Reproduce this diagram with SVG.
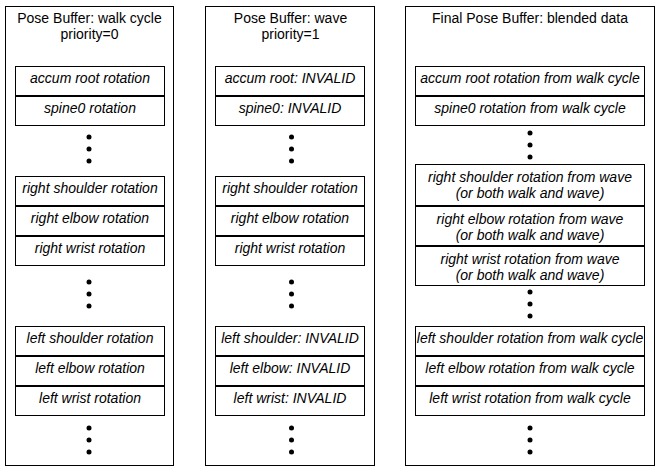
<svg xmlns="http://www.w3.org/2000/svg" width="660" height="472" viewBox="0 0 660 472">
<style>
.frame{fill:#fff;stroke:#000;stroke-width:1}
.slot{fill:#fff;stroke:#000;stroke-width:1}
.title{font-family:"Liberation Sans",Arial,sans-serif;font-size:14px;fill:#000;text-anchor:middle}
.lbl{font-family:"Liberation Sans",Arial,sans-serif;font-size:14px;font-style:italic;fill:#000;text-anchor:middle}
.dot{fill:#000}
</style>
<rect x="0" y="0" width="660" height="472" fill="#fff"/>

<g id="buffer-walk">
<rect class="frame" x="5.5" y="6.5" width="168" height="459"/>
<text class="title" x="89.5" y="23">Pose Buffer: walk cycle</text>
<text class="title" x="89.5" y="39">priority=0</text>
<g id="walk-accum"><rect class="slot" x="15.5" y="66.5" width="149" height="29"/><text class="lbl" x="90" y="83">accum root rotation</text></g>
<g id="walk-spine0"><rect class="slot" x="15.5" y="96.5" width="149" height="29"/><text class="lbl" x="90" y="113">spine0 rotation</text></g>
<g id="walk-dots1"><circle class="dot" cx="89" cy="137" r="2.5"/><circle class="dot" cx="89" cy="149" r="2.5"/><circle class="dot" cx="89" cy="161" r="2.5"/></g>
<g id="walk-rshoulder"><rect class="slot" x="15.5" y="176.5" width="149" height="29"/><text class="lbl" x="90" y="193">right shoulder rotation</text></g>
<g id="walk-relbow"><rect class="slot" x="15.5" y="206.5" width="149" height="29"/><text class="lbl" x="90" y="223">right elbow rotation</text></g>
<g id="walk-rwrist"><rect class="slot" x="15.5" y="236.5" width="149" height="29"/><text class="lbl" x="90" y="253">right wrist rotation</text></g>
<g id="walk-dots2"><circle class="dot" cx="89" cy="282" r="2.5"/><circle class="dot" cx="89" cy="294" r="2.5"/><circle class="dot" cx="89" cy="306" r="2.5"/></g>
<g id="walk-lshoulder"><rect class="slot" x="15.5" y="326.5" width="149" height="29"/><text class="lbl" x="90" y="343">left shoulder rotation</text></g>
<g id="walk-lelbow"><rect class="slot" x="15.5" y="356.5" width="149" height="29"/><text class="lbl" x="90" y="373">left elbow rotation</text></g>
<g id="walk-lwrist"><rect class="slot" x="15.5" y="386.5" width="149" height="29"/><text class="lbl" x="90" y="403">left wrist rotation</text></g>
<g id="walk-dots3"><circle class="dot" cx="89" cy="428" r="2.5"/><circle class="dot" cx="89" cy="440" r="2.5"/><circle class="dot" cx="89" cy="452" r="2.5"/></g>
</g>

<g id="buffer-wave">
<rect class="frame" x="205.5" y="6.5" width="169" height="459"/>
<text class="title" x="290.5" y="23">Pose Buffer: wave</text>
<text class="title" x="290.5" y="39">priority=1</text>
<g id="wave-accum"><rect class="slot" x="215.5" y="66.5" width="149" height="29"/><text class="lbl" x="290" y="83">accum root: INVALID</text></g>
<g id="wave-spine0"><rect class="slot" x="215.5" y="96.5" width="149" height="29"/><text class="lbl" x="290" y="113">spine0: INVALID</text></g>
<g id="wave-dots1"><circle class="dot" cx="291.5" cy="137" r="2.5"/><circle class="dot" cx="291.5" cy="149" r="2.5"/><circle class="dot" cx="291.5" cy="161" r="2.5"/></g>
<g id="wave-rshoulder"><rect class="slot" x="215.5" y="176.5" width="149" height="29"/><text class="lbl" x="290" y="193">right shoulder rotation</text></g>
<g id="wave-relbow"><rect class="slot" x="215.5" y="206.5" width="149" height="29"/><text class="lbl" x="290" y="223">right elbow rotation</text></g>
<g id="wave-rwrist"><rect class="slot" x="215.5" y="236.5" width="149" height="29"/><text class="lbl" x="290" y="253">right wrist rotation</text></g>
<g id="wave-dots2"><circle class="dot" cx="291.5" cy="282" r="2.5"/><circle class="dot" cx="291.5" cy="294" r="2.5"/><circle class="dot" cx="291.5" cy="306" r="2.5"/></g>
<g id="wave-lshoulder"><rect class="slot" x="215.5" y="326.5" width="149" height="29"/><text class="lbl" x="290" y="343">left shoulder: INVALID</text></g>
<g id="wave-lelbow"><rect class="slot" x="215.5" y="356.5" width="149" height="29"/><text class="lbl" x="290" y="373">left elbow: INVALID</text></g>
<g id="wave-lwrist"><rect class="slot" x="215.5" y="386.5" width="149" height="29"/><text class="lbl" x="290" y="403">left wrist: INVALID</text></g>
<g id="wave-dots3"><circle class="dot" cx="291.5" cy="428" r="2.5"/><circle class="dot" cx="291.5" cy="440" r="2.5"/><circle class="dot" cx="291.5" cy="452" r="2.5"/></g>
</g>

<g id="buffer-final">
<rect class="frame" x="405.5" y="6.5" width="249" height="459"/>
<text class="title" x="530" y="23">Final Pose Buffer: blended data</text>
<g id="final-accum"><rect class="slot" x="415.5" y="66.5" width="229" height="29"/><text class="lbl" x="530" y="83">accum root rotation from walk cycle</text></g>
<g id="final-spine0"><rect class="slot" x="415.5" y="96.5" width="229" height="29"/><text class="lbl" x="530" y="113">spine0 rotation from walk cycle</text></g>
<g id="final-dots1"><circle class="dot" cx="530" cy="133" r="2.5"/><circle class="dot" cx="530" cy="145" r="2.5"/><circle class="dot" cx="530" cy="157" r="2.5"/></g>
<g id="final-rshoulder"><rect class="slot" x="415.5" y="164.5" width="229" height="41"/><text class="lbl" x="530" y="182">right shoulder rotation from wave</text><text class="lbl" x="530" y="198">(or both walk and wave)</text></g>
<g id="final-relbow"><rect class="slot" x="415.5" y="206.5" width="229" height="39"/><text class="lbl" x="530" y="223.5">right elbow rotation from wave</text><text class="lbl" x="530" y="239.5">(or both walk and wave)</text></g>
<g id="final-rwrist"><rect class="slot" x="415.5" y="246.5" width="229" height="39"/><text class="lbl" x="530" y="263.5">right wrist rotation from wave</text><text class="lbl" x="530" y="279.5">(or both walk and wave)</text></g>
<g id="final-dots2"><circle class="dot" cx="530" cy="292" r="2.5"/><circle class="dot" cx="530" cy="304" r="2.5"/><circle class="dot" cx="530" cy="316" r="2.5"/></g>
<g id="final-lshoulder"><rect class="slot" x="415.5" y="326.5" width="229" height="29"/><text class="lbl" x="530" y="343">left shoulder rotation from walk cycle</text></g>
<g id="final-lelbow"><rect class="slot" x="415.5" y="356.5" width="229" height="29"/><text class="lbl" x="530" y="373">left elbow rotation from walk cycle</text></g>
<g id="final-lwrist"><rect class="slot" x="415.5" y="386.5" width="229" height="29"/><text class="lbl" x="530" y="403">left wrist rotation from walk cycle</text></g>
<g id="final-dots3"><circle class="dot" cx="530" cy="428" r="2.5"/><circle class="dot" cx="530" cy="440" r="2.5"/><circle class="dot" cx="530" cy="452" r="2.5"/></g>
</g>

<g id="connectors"></g>
</svg>
